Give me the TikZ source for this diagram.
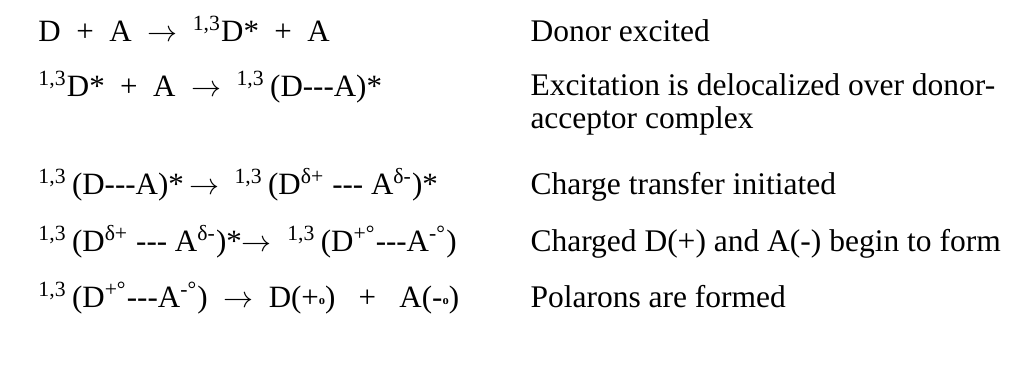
\documentclass[tikz,border=0pt]{standalone}
\usepackage{fontspec}
\setmainfont{Liberation Serif}
\usetikzlibrary{positioning}
\newcommand{\mult}{\textsuperscript{1,3}}
\newcommand{\dsh}{-{}-{}-}
\newcommand{\pol}{\raisebox{0.2ex}{\tiny\bfseries o}}

\begin{document}
\begin{tikzpicture}[
        x=0.4pt, y=-0.4pt,
        eqn/.style={anchor=base west, inner sep=0pt, font=\fontsize{12.4}{14}\selectfont},
        desc/.style={anchor=base west, inner sep=0pt, align=left, font=\fontsize{12.6}{13}\selectfont}
    ]
        \useasboundingbox (0,0) rectangle (1012,383);
        \node (eqa) [eqn] at (38,41) {D\enspace+\enspace A\enspace$\rightarrow$\enspace\mult D*\enspace +\enspace A};
        \node (eqb) [eqn] at (38,96) {\mult D*\ \ +\ \ A\ \ $\rightarrow$\ \ \mult\,(D\dsh A)*};
        \node (eqc) [eqn] at (38,194) {\mult\,(D\dsh A)*\,$\rightarrow$\ \ \mult\,(D\textsuperscript{δ+} \dsh\ A\textsuperscript{δ-})*};
        \node (eqd) [eqn] at (38,251) {\mult\,(D\textsuperscript{δ+} \dsh\ A\textsuperscript{δ-})*$\rightarrow$\enspace\mult\,(D\textsuperscript{+°}\dsh A\textsuperscript{-°})};
        \node (eqe) [eqn] at (38,307) {\mult\,(D\textsuperscript{+°}\dsh A\textsuperscript{-°})\enspace$\rightarrow$\enspace D(+\pol)\enspace\ +\enspace\ A(-\pol)};

        \node (desca) [desc] at (530,41) {Donor excited};
        \node (descb) [desc] at (530,128) {Excitation is delocalized over donor-\\acceptor complex};
        \node (descc) [desc] at (530,194) {Charge transfer initiated};
        \node (descd) [desc] at (530,251) {Charged D(+) and A(-) begin to form};
        \node (desce) [desc] at (530,307) {Polarons are formed};
    \end{tikzpicture}
\end{document}
